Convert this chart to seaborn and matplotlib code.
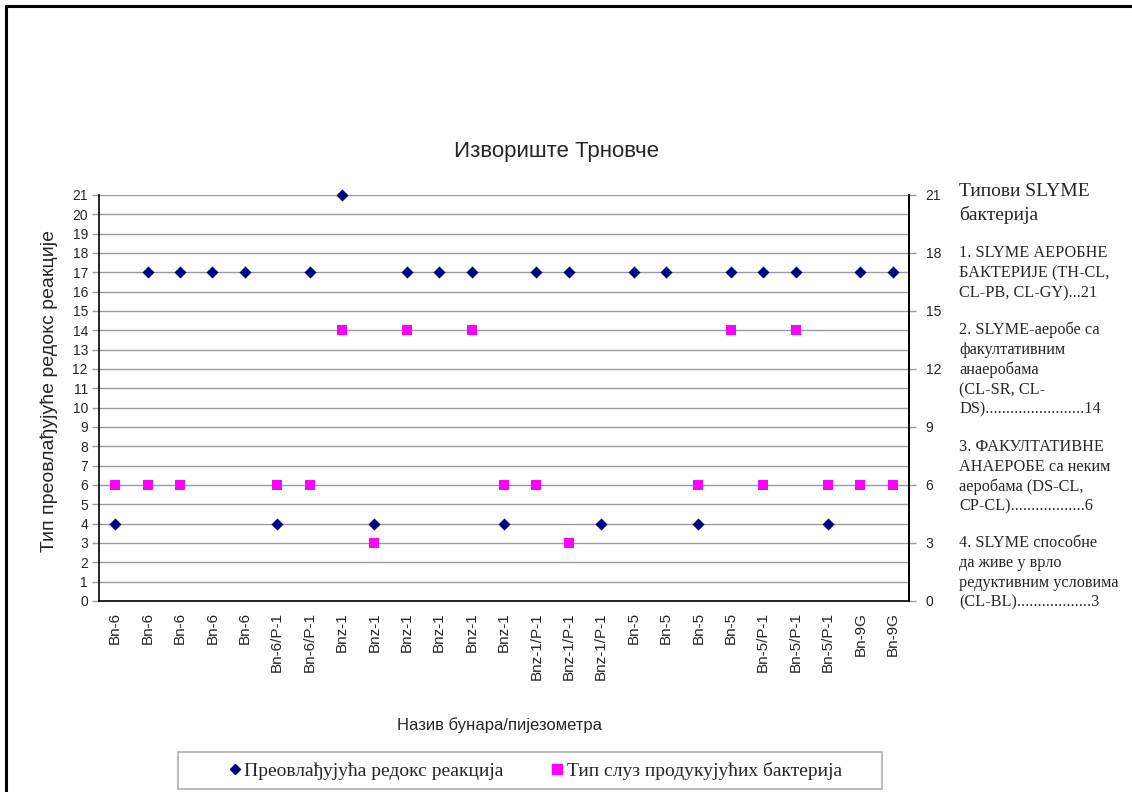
import numpy as np
import pandas as pd
import matplotlib
matplotlib.use("Agg")
import matplotlib.pyplot as plt
import seaborn as sns
from matplotlib.patches import Rectangle
from matplotlib.lines import Line2D

# ---------------- data ----------------
wells = ["Bn-6", "Bn-6", "Bn-6", "Bn-6", "Bn-6", "Bn-6/P-1", "Bn-6/P-1",
         "Bnz-1", "Bnz-1", "Bnz-1", "Bnz-1", "Bnz-1", "Bnz-1",
         "Bnz-1/P-1", "Bnz-1/P-1", "Bnz-1/P-1",
         "Bn-5", "Bn-5", "Bn-5", "Bn-5", "Bn-5/P-1", "Bn-5/P-1", "Bn-5/P-1",
         "Bn-9G", "Bn-9G"]
redox = [4, 17, 17, 17, 17, 4, 17, 21, 4, 17, 17, 17, 4, 17, 17, 4,
         17, 17, 4, 17, 17, 17, 4, 17, 17]
slime = [6, 6, 6, None, None, 6, 6, 14, 3, 14, None, 14, 6, 6, 3, None,
         None, None, 6, 14, 6, 14, 6, 6, 6]
series_names = ["Преовлађујућа редокс реакција", "Тип слуз продукујућих бактерија"]
title = "Извориште Трновче"
xlabel = "Назив бунара/пијезометра"
ylabel = "Тип преовлађујуће редокс реакције"
side_lines = [
    ("Типови SLYME", 192, 14),
    ("бактерија", 215, 14),
    ("1. SLYME АЕРОБНЕ", 253, 11.7),
    ("БАКТЕРИЈЕ (TH-CL,", 273, 11.7),
    ("CL-PB, CL-GY)...21", 293, 11.7),
    ("2. SLYME-аеробе са", 330, 11.7),
    ("факултативним", 350, 11.7),
    ("анаеробама", 370, 11.7),
    ("(CL-SR, CL-", 390, 11.7),
    ("DS)........................14", 409, 11.7),
    ("3. ФАКУЛТАТИВНЕ", 447, 11.7),
    ("АНАЕРОБЕ са неким", 467, 11.7),
    ("аеробама (DS-CL,", 487, 11.7),
    ("CP-CL)..................6", 506, 11.7),
    ("4. SLYME способне", 543, 11.7),
    ("да живе у врло", 563, 11.7),
    ("редуктивним условима", 583, 11.7),
    ("(CL-BL)..................3", 602, 11.7),
]

# ---------------- frame ----------------
sns.set_theme(style="white")
plt.rcParams['font.family'] = ['Liberation Sans', 'DejaVu Sans']

W, H = 1132, 792
fig = plt.figure(figsize=(W / 100, H / 100), dpi=100)
L, R, T, B = 99, 909, 195, 601
ax = fig.add_axes([L / W, 1 - B / H, (R - L) / W, (B - T) / H])

n = len(wells)
df = pd.DataFrame({"pos": np.arange(n), "redox": redox,
                   "slime": [np.nan if v is None else v for v in slime]})

grid_c = "#9a9a9a"
for yv in range(0, 22):
    ax.axhline(yv, color=grid_c, lw=1.0, zorder=0)

sns.scatterplot(data=df, x="pos", y="redox", marker="D", s=38, color="#000080",
                edgecolor="#000080", linewidth=0, ax=ax, zorder=3, clip_on=False)
sns.scatterplot(data=df.dropna(), x="pos", y="slime", marker="s", s=60,
                color="#FF00FF", edgecolor="#FF00FF", linewidth=0, ax=ax, zorder=3,
                clip_on=False)

ax.set_xlim(-0.5, n - 0.5)
ax.set_ylim(0, 21)
ax.set_yticks(range(0, 22))
ax.set_yticklabels([str(v) for v in range(0, 22)], fontsize=10)
ax.set_xticks(np.arange(n))
ax.set_xticklabels(wells, rotation=90, fontsize=11)
ax.set_xticks(np.arange(n + 1) - 0.5, minor=True)
ax.tick_params(axis="x", which="major", length=0, pad=8)
ax.tick_params(axis="x", which="minor", length=5, color=grid_c, width=1, direction="out")
ax.tick_params(axis="y", which="major", length=5, color=grid_c, width=1,
               direction="out", left=True, pad=3)
ax.set_xlabel("")
ax.set_ylabel("")
ax.spines["top"].set_visible(False)
for s in ["left", "bottom", "right"]:
    ax.spines[s].set_color("black")
    ax.spines[s].set_linewidth(1.2)

ax2 = ax.twinx()
ax2.set_ylim(0, 21)
ax2.set_yticks(range(0, 22, 3))
ax2.set_yticklabels([str(v) for v in range(0, 22, 3)], fontsize=10)
ax2.tick_params(axis="y", length=5, color=grid_c, width=1, direction="out", pad=7)
for s in ["top", "left", "bottom"]:
    ax2.spines[s].set_visible(False)
ax2.spines["right"].set_color("black")
ax2.spines["right"].set_linewidth(1.2)

# ---------------- texts ----------------
fig.text(556 / W, 1 - 152 / H, title, ha="center", va="center", fontsize=16)
fig.text(49 / W, 1 - 391 / H, ylabel, rotation=90, ha="center", va="center", fontsize=14)
fig.text(500 / W, 1 - 725 / H, xlabel, ha="center", va="center", fontsize=12)

for txt, yy, fs in side_lines:
    fig.text(959 / W, 1 - yy / H, txt, ha="left", va="center", fontsize=fs,
             family=["Liberation Serif", "DejaVu Serif"])

# legend
handles = [Line2D([], [], marker="D", color="#000080", linestyle="none", markersize=5),
           Line2D([], [], marker="s", color="#FF00FF", linestyle="none", markersize=7)]
leg = fig.legend(handles, series_names, loc="center", ncol=2,
                 bbox_to_anchor=(534 / W, 1 - 771 / H),
                 prop={"family": ["Liberation Serif", "DejaVu Serif"], "size": 14},
                 frameon=False, handletextpad=0.05, columnspacing=2.3, handlelength=0.9)
fig.patches.append(Rectangle((178 / W, 1 - 789 / H), (882 - 178) / W, (789 - 752) / H,
                             transform=fig.transFigure, fill=False,
                             edgecolor="#b0b0b0", lw=1.2))

# outer border (top & left visible)
fig.add_artist(Line2D([6 / W, 6 / W], [0, 1 - 6 / H], transform=fig.transFigure,
                      color="black", lw=2.2))
fig.add_artist(Line2D([6 / W, 1], [1 - 6 / H, 1 - 6 / H], transform=fig.transFigure,
                      color="black", lw=2.2))

fig.savefig("out.png", dpi=100, facecolor="white")
